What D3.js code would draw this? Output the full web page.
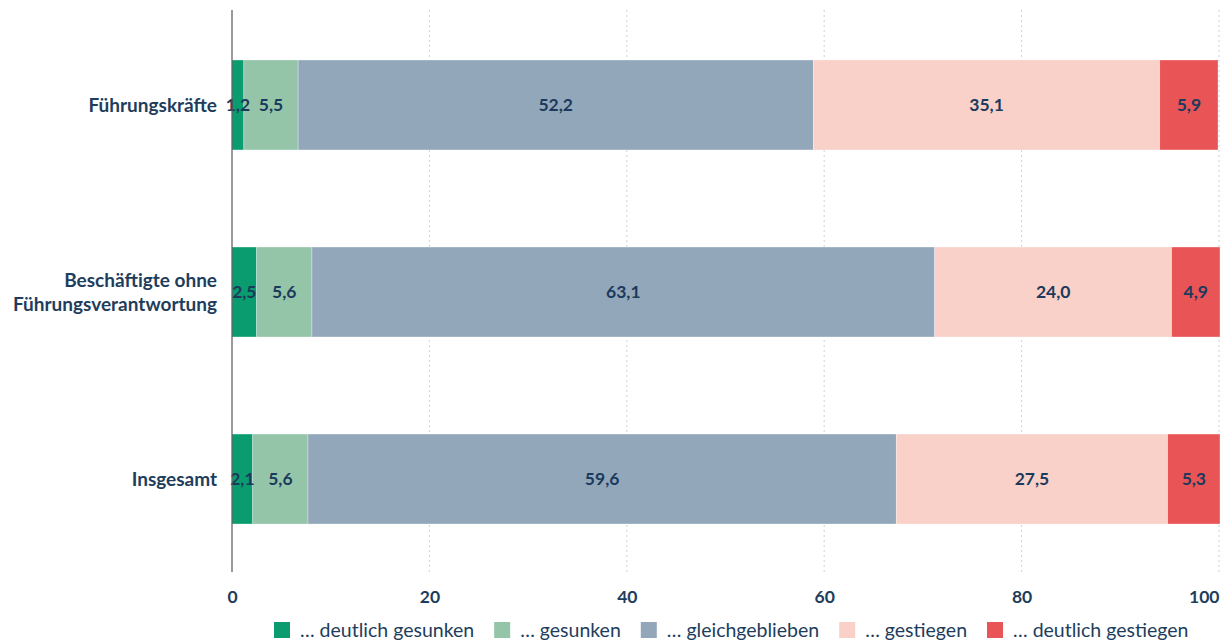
<!DOCTYPE html>
<html>
<head>
<meta charset="utf-8">
<script src="https://cdn.jsdelivr.net/npm/d3@7"></script>
<style>
  body { margin: 0; background: #fff; }
  svg text { font-family: Lato, "Open Sans", sans-serif; }
</style>
</head>
<body>
<div id="chart"></div>
<script>
// categories (top to bottom)
var categories = ["Führungskräfte", "Beschäftigte ohne|Führungsverantwortung", "Insgesamt"]
var seriesNames = ["… deutlich gesunken", "… gesunken", "… gleichgeblieben", "… gestiegen", "… deutlich gestiegen"]
var colors = ["#0a9c6f", "#94c5a9", "#93a7bb", "#f9d1c9", "#e95456"]
// values per series, one per category
var deutlichGesunken = [1.2, 2.5, 2.1]
var gesunken = [5.5, 5.6, 5.6]
var gleich = [52.2, 63.1, 59.6]
var gestiegen = [35.1, 24.0, 27.5]
var deutlichGestiegen = [5.9, 4.9, 5.3]
var ticks = [0, 20, 40, 60, 80, 100]

var series = [deutlichGesunken, gesunken, gleich, gestiegen, deutlichGestiegen]
var W = 1226, H = 641
var margin = {left: 232, right: 7, top: 10, bottom: 69}
var textCol = "#1e3d5c"

var svg = d3.select("#chart").append("svg")
    .attr("width", W).attr("height", H)

var x = d3.scaleLinear().domain([0, 100]).range([margin.left, W - margin.right])
var y = d3.scaleBand().domain(categories).range([60, 524]).paddingInner(0.519).paddingOuter(0)

// grid
svg.append("g").selectAll("line").data(ticks.slice(1)).join("line")
    .attr("x1", d => x(d)).attr("x2", d => x(d))
    .attr("y1", margin.top).attr("y2", H - margin.bottom)
    .attr("stroke", "#c9d2dc").attr("stroke-width", 1).attr("stroke-dasharray", "2,3")

// bars
var rows = categories.map(function(c, i) {
    var acc = 0
    return series.map(function(s, j) {
        var r = {cat: c, k: j, v: s[i], x0: acc}
        acc += s[i]
        return r
    })
})

var g = svg.append("g")
rows.forEach(function(r) {
    var rg = g.append("g")
    rg.selectAll("rect").data(r).join("rect")
        .attr("x", d => x(d.x0))
        .attr("width", d => x(d.x0 + d.v) - x(d.x0))
        .attr("y", d => y(d.cat))
        .attr("height", y.bandwidth())
        .attr("fill", d => colors[d.k])
        .attr("stroke", "#ffffff").attr("stroke-opacity", 0.5).attr("stroke-width", 0.6)
    rg.selectAll("text").data(r).join("text")
        .attr("x", d => x(d.x0 + d.v / 2))
        .attr("y", d => y(d.cat) + y.bandwidth() / 2)
        .attr("dy", "0.35em")
        .attr("text-anchor", "middle")
        .attr("font-size", 17.5).attr("font-weight", "bold")
        .attr("fill", "#1b3a5c")
        .text(d => d3.format(".1f")(d.v).replace(".", ","))
})

// zero axis line
svg.append("line")
    .attr("x1", x(0)).attr("x2", x(0))
    .attr("y1", margin.top).attr("y2", H - margin.bottom)
    .attr("stroke", "#555").attr("stroke-width", 1.2)

// category labels
categories.forEach(function(c) {
    var lines = c.split("|")
    var t = svg.append("text")
        .attr("text-anchor", "end")
        .attr("font-size", 19).attr("font-weight", "bold")
        .attr("fill", textCol)
    var cy = y(c) + y.bandwidth() / 2 - (lines.length - 1) * 12
    lines.forEach(function(l, i) {
        t.append("tspan").attr("x", 217).attr("y", cy + i * 24).attr("dy", "0.35em").text(l)
    })
})

// x axis
var xa = svg.append("g").attr("transform", "translate(0," + (H - margin.bottom) + ")")
    .call(d3.axisBottom(x).tickValues(ticks).tickSize(0).tickPadding(19))
xa.select(".domain").remove()
xa.selectAll("text").attr("font-size", 17.5).attr("font-weight", "bold").attr("fill", textCol)
    .style("font-family", "Lato, sans-serif")
    .attr("text-anchor", d => d === 100 ? "end" : "middle")

// legend
var leg = svg.append("g").attr("transform", "translate(0,630)")
var lx = 274
seriesNames.forEach(function(n, i) {
    leg.append("rect").attr("x", lx).attr("y", -8).attr("width", 16).attr("height", 16).attr("fill", colors[i])
    var t = leg.append("text").attr("x", lx + 26).attr("y", 0).attr("dy", "0.35em")
        .attr("font-size", 19.5).attr("fill", textCol).text(n)
    lx += 26 + t.node().getComputedTextLength() + 20
})
</script>
</body>
</html>
